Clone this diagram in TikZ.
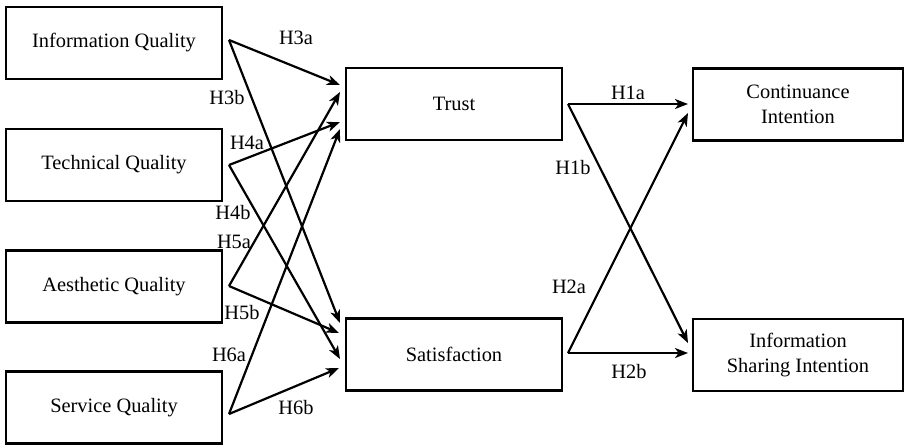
\documentclass[tikz,border=0pt]{standalone}
\usepackage{fontspec}
\setmainfont{Liberation Serif}
\usepackage{tikz}
\usetikzlibrary{arrows.meta,calc,positioning}
\definecolor{Ink}{HTML}{000000}
\tikzset{
  construct/.style={
    draw=Ink,
    line width=1.3pt,
    minimum height=36pt,
    inner sep=2pt,
    align=center,
    font=\fontsize{10.2}{12.5}\selectfont
  },
  path/.style={
    draw=Ink,
    line width=1.1pt,
    -{Stealth[length=6.5pt,width=5pt,inset=1.8pt]}
  },
  hyp/.style={
    inner sep=0pt,
    font=\fontsize{10.2}{12}\selectfont
  }
}

\begin{document}
\begin{tikzpicture}[x=0.5pt,y=-0.5pt]
        \useasboundingbox[fill=white] (0,0) rectangle (905,447);
        % exogenous constructs
        \node[construct, minimum width=108pt] (iq) at (114,43) {Information Quality};
        \node[construct, minimum width=108pt] (tq) at (114,165) {Technical Quality};
        \node[construct, minimum width=108pt] (aq) at (114,286.5) {Aesthetic Quality};
        \node[construct, minimum width=108pt] (sq) at (114,407.5) {Service Quality};
        % mediators
        \node[construct, minimum width=108pt] (trust) at (454,104) {Trust};
        \node[construct, minimum width=108pt] (sat) at (454,354.5) {Satisfaction};
        % outcomes
        \node[construct, minimum width=105pt] (ci) at (798,104.5) {Continuance\\Intention};
        \node[construct, minimum width=105pt] (isi) at (798,355) {Information\\Sharing Intention};
        % start and end points of the paths
        \coordinate (iq-out) at (229,40);
        \coordinate (tq-out) at (229,165);
        \coordinate (aq-out) at (229,286);
        \coordinate (sq-out) at (229,414);
        \coordinate (trust-in3) at (340,85);
        \coordinate (trust-in5) at (340,92);
        \coordinate (trust-in4) at (340,122);
        \coordinate (trust-in6) at (340,129);
        \coordinate (sat-in3) at (340,323);
        \coordinate (sat-in5) at (339,333);
        \coordinate (sat-in4) at (340,359);
        \coordinate (sat-in6) at (339,368);
        \coordinate (trust-out) at (568,104);
        \coordinate (sat-out) at (568,353);
        \coordinate (ci-in1) at (688,104);
        \coordinate (ci-in2) at (688,113);
        \coordinate (isi-in1) at (688,343);
        \coordinate (isi-in2) at (688,353);
        % paths
        \draw[path] (iq-out) -- (trust-in3);
        \draw[path] (iq-out) -- (sat-in3);
        \draw[path] (tq-out) -- (trust-in4);
        \draw[path] (tq-out) -- (sat-in4);
        \draw[path] (aq-out) -- (trust-in5);
        \draw[path] (aq-out) -- (sat-in5);
        \draw[path] (sq-out) -- (trust-in6);
        \draw[path] (sq-out) -- (sat-in6);
        \draw[path] (trust-out) -- (ci-in1);
        \draw[path] (trust-out) -- (isi-in1);
        \draw[path] (sat-out) -- (ci-in2);
        \draw[path] (sat-out) -- (isi-in2);
        % hypothesis labels
        \node[hyp] (h3a) at (296,38) {H3a};
        \node[hyp] (h3b) at (227,98) {H3b};
        \node[hyp] (h4a) at (247,143) {H4a};
        \node[hyp] (h4b) at (233,213) {H4b};
        \node[hyp] (h5a) at (234,242) {H5a};
        \node[hyp] (h5b) at (242,313) {H5b};
        \node[hyp] (h6a) at (229,355) {H6a};
        \node[hyp] (h6b) at (296,408) {H6b};
        \node[hyp] (h1a) at (628,93) {H1a};
        \node[hyp] (h1b) at (573,168) {H1b};
        \node[hyp] (h2a) at (569,287) {H2a};
        \node[hyp] (h2b) at (629,372) {H2b};
      \end{tikzpicture}
\end{document}
